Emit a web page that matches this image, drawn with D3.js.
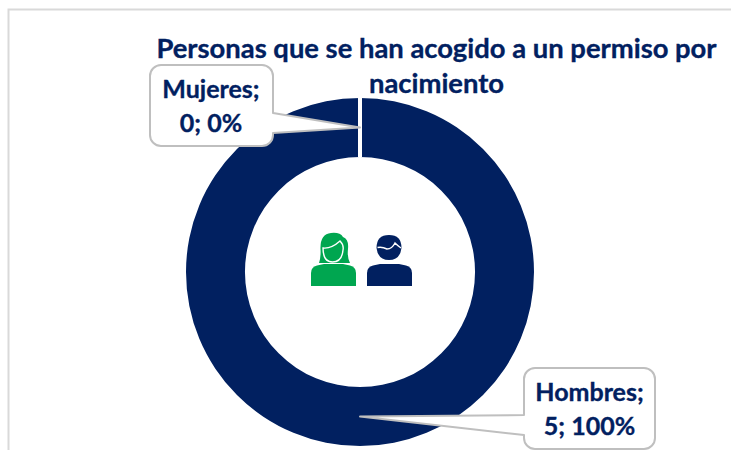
<!DOCTYPE html>
<html><head><meta charset="utf-8">
<script src="https://cdn.jsdelivr.net/npm/d3@7"></script>
<style>html,body{margin:0;padding:0;background:#fff}svg{display:block}text{font-family:Lato,"Noto Sans",sans-serif;font-weight:700;stroke:#012060;stroke-width:.35px}</style>
</head><body><svg id="c" width="731" height="450"></svg>
<script>
const categories = ["Mujeres", "Hombres"];
const values = [0, 5];
const percents = ["0%", "100%"];
const titleLines = ["Personas que se han acogido a un permiso por", "nacimiento"];
const colors = ["#00a650", "#012060"];

const svg = d3.select("#c");
const W = 731, H = 450, cx = 360, cy = 272, R = 174, r = 115;
const navy = "#012060", edge = "#bfbfbf";

// frame
svg.append("path").attr("d", `M8.5 ${H}V9.5H${W}`).attr("fill", "none").attr("stroke", "#d9d9d9").attr("stroke-width", 2);

// donut
const pie = d3.pie().sort(null)(values);
const arc = d3.arc().innerRadius(r).outerRadius(R);
const g = svg.append("g").attr("transform", `translate(${cx},${cy})`);
const order = [1, 0];
g.selectAll("path").data(order.map(i => pie[i])).join("path")
  .attr("d", arc)
  .attr("fill", d => colors[d.index])
  .attr("stroke", d => d.value === 0 ? "#fff" : "none")
  .attr("stroke-width", 4);

// title
svg.append("g").selectAll("text").data(titleLines).join("text")
  .attr("x", 436.5).attr("y", (d, i) => 58 + i * 35)
  .attr("text-anchor", "middle").attr("fill", navy).attr("font-size", 27.4).text(d => d);

// callouts
const boxes = [
  {x: 150, y: 65, w: 123, h: 81, by0: 113, by1: 133, side: "right", tx: 211, ty: 98},
  {x: 524, y: 368, w: 131, h: 81, by0: 415, by1: 435, side: "left", tx: 589.5, ty: 401}
];
function callout(b, t) {
  const k = 11, x0 = b.x, x1 = b.x + b.w, y0 = b.y, y1 = b.y + b.h;
  const p = d3.path();
  p.moveTo(x0 + k, y0); p.lineTo(x1 - k, y0); p.arcTo(x1, y0, x1, y0 + k, k);
  if (b.side === "right") { p.lineTo(x1, b.by0); p.lineTo(t[0], t[1]); p.lineTo(x1, b.by1); }
  p.lineTo(x1, y1 - k); p.arcTo(x1, y1, x1 - k, y1, k);
  p.lineTo(x0 + k, y1); p.arcTo(x0, y1, x0, y1 - k, k);
  if (b.side === "left") { p.lineTo(x0, b.by1); p.lineTo(t[0], t[1]); p.lineTo(x0, b.by0); }
  p.lineTo(x0, y0 + k); p.arcTo(x0, y0, x0 + k, y0, k); p.closePath();
  return p.toString();
}
categories.forEach((c, i) => {
  const b = boxes[i], a = arc.centroid(pie[i]);
  const tip = [cx + a[0], cy + a[1]];
  svg.append("path").attr("d", callout(b, tip)).attr("fill", "#fff").attr("stroke", edge).attr("stroke-width", 2).attr("stroke-linejoin", "round");
  const t = svg.append("text").attr("text-anchor", "middle").attr("fill", navy).attr("font-size", 25);
  t.append("tspan").attr("x", b.tx).attr("y", b.ty).text(c + ";");
  t.append("tspan").attr("x", b.tx).attr("y", b.ty + 34).text(values[i] + "; " + percents[i]);
});

// icons
const body = "M0 22V9Q0 3 6 1.5L13 0H32L39 1.5Q45 3 45 9V22Z";
const woman = svg.append("g").attr("transform", "translate(311,235)");
woman.append("path").attr("fill", colors[0]).attr("d", "M8 28Q10 22 9.500 14Q9 -1 20 -2Q29 -3 32 2Q38 4 37 14Q36 22 39 28Z");
woman.append("path").attr("fill", colors[0]).attr("stroke", "#fff").attr("stroke-width", 1.4).attr("d", "M12 13Q20 14 29 6Q33 10 32 15Q31 27 21.500 27Q12 27 12 13Z");
woman.append("path").attr("fill", colors[0]).attr("transform", "translate(0,29)").attr("d", body);
const man = svg.append("g").attr("transform", "translate(367,235)");
man.append("path").attr("fill", colors[1]).attr("d", "M9.500 13Q9.500 0 22 0Q34.500 0 34.500 13Q33 25 22 25Q11 25 9.500 13Z");
man.append("path").attr("fill", "none").attr("stroke", "#fff").attr("stroke-width", 1.4).attr("d", "M10.500 12.500Q15 11.500 20 14Q25 14 28 8Q31 11 34 13");
man.append("path").attr("fill", colors[1]).attr("transform", "translate(0,29)").attr("d", body);
</script></body></html>
